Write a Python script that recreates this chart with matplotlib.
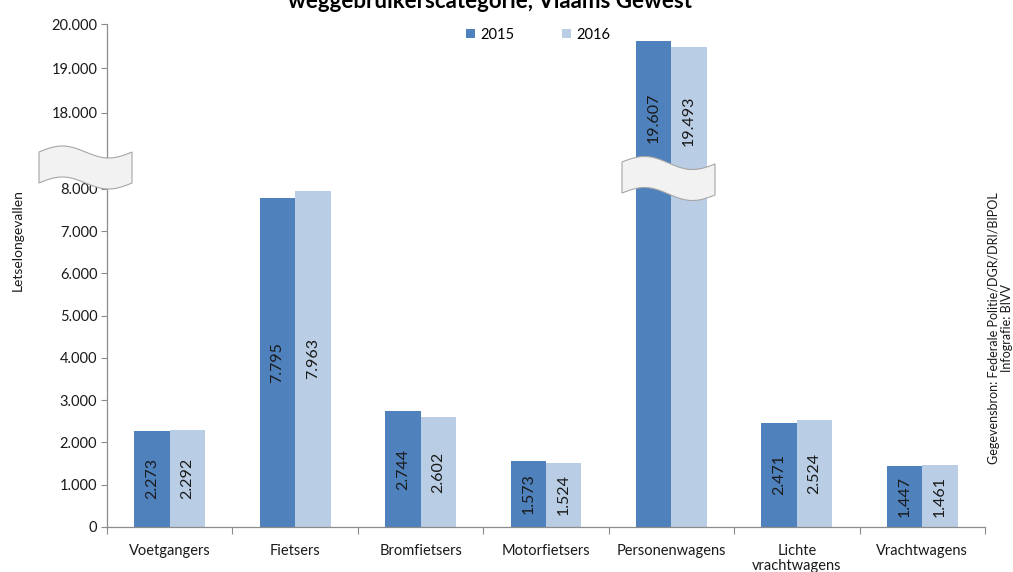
import numpy as np
import matplotlib
matplotlib.use("Agg")
import matplotlib.pyplot as plt
from matplotlib.patches import Polygon, Patch

plt.rcParams['font.family'] = ['Lato', 'DejaVu Sans']

categories = ["Voetgangers", "Fietsers", "Bromfietsers", "Motorfietsers",
              "Personenwagens", "Lichte\nvrachtwagens", "Vrachtwagens"]
values_2015 = [2273, 7795, 2744, 1573, 19607, 2471, 1447]
values_2016 = [2292, 7963, 2602, 1524, 19493, 2524, 1461]
series_names = ["2015", "2016"]
ytick_values = [0, 1000, 2000, 3000, 4000, 5000, 6000, 7000, 8000, 18000, 19000, 20000]

C15 = "#4F81BD"
C16 = "#B9CDE5"
AXC = "#8C8C8C"

# broken axis mapping
LOW, HIGH = 8000.0, 18000.0
T_HIGH = 9799.0
SLOPE_HI = 1.053
SLOPE_MID = (T_HIGH - LOW) / (HIGH - LOW)


def fwd(v):
    v = np.asarray(v, dtype=float)
    return np.where(v <= LOW, v,
                    np.where(v >= HIGH, T_HIGH + (v - HIGH) * SLOPE_HI,
                             LOW + (v - LOW) * SLOPE_MID))


def inv(t):
    t = np.asarray(t, dtype=float)
    return np.where(t <= LOW, t,
                    np.where(t >= T_HIGH, HIGH + (t - T_HIGH) / SLOPE_HI,
                             LOW + (t - LOW) / SLOPE_MID))


W, H = 1013, 572
fig = plt.figure(figsize=(W / 100, H / 100), dpi=100)
ax = fig.add_axes([107 / W, 1 - 527 / H, (985 - 107) / W, (527 - 24) / H])
ax.set_yscale('function', functions=(fwd, inv))
ax.set_ylim(0, 20000)

x = np.arange(len(categories))
bw = 0.283
ax.bar(x - bw / 2, values_2015, bw, color=C15, zorder=2)
ax.bar(x + bw / 2, values_2016, bw, color=C16, zorder=2)

ax.set_xlim(-0.5, len(categories) - 0.5)

# y ticks
ax.set_yticks(ytick_values)
ax.set_yticklabels([f"{v:,}".replace(",", ".") for v in ytick_values])
ax.yaxis.set_minor_locator(matplotlib.ticker.NullLocator())
ax.tick_params(axis='y', direction='out', length=4, width=0.8, color=AXC,
               labelsize=10.5, pad=3, labelcolor="#1a1a1a")

# x ticks: boundaries with marks, labels at centers
ax.set_xticks(np.arange(-0.5, len(categories), 1.0))
ax.set_xticklabels([])
ax.set_xticks(x, minor=True)
ax.set_xticklabels(categories, minor=True)
ax.tick_params(axis='x', which='major', direction='out', length=5, width=0.8, color=AXC)
ax.tick_params(axis='x', which='minor', length=0, labelsize=10.5, pad=12, labelcolor="#1a1a1a")
for lab in ax.get_xticklabels(minor=True):
    lab.set_linespacing(1.15)

for s in ['top', 'right']:
    ax.spines[s].set_visible(False)
for s in ['left', 'bottom']:
    ax.spines[s].set_color(AXC)
    ax.spines[s].set_linewidth(0.9)

# break shapes (pixel layout)
def break_shape(x0, x1, ytop_l, ytop_r, h, amp=6):
    xs = np.linspace(x0, x1, 60)
    frac = (xs - x0) / (x1 - x0)
    base = ytop_l + (ytop_r - ytop_l) * frac
    top = base - amp * np.sin(2 * np.pi * frac)
    bot = top + h
    pts = list(zip(xs, top)) + list(zip(xs[::-1], bot[::-1]))
    pts = [(px / W, 1 - py / H) for px, py in pts]
    poly = Polygon(pts, closed=True, transform=fig.transFigure, facecolor="#F2F2F2",
                   edgecolor="#A6A6A6", linewidth=0.8, zorder=6, clip_on=False)
    fig.patches.append(poly)

break_shape(39, 132, 152, 152, 31)
break_shape(622, 715, 162, 164, 31)

# data labels
BREAK_BOTTOM_PX = 195
px_per_t = (527 - 24) / float(fwd(20000))
t_break_bottom = (527 - BREAK_BOTTOM_PX) / px_per_t
for vals, off in ((values_2015, -bw / 2), (values_2016, bw / 2)):
    for xi, v in zip(x, vals):
        tv = float(fwd(v))
        if v > HIGH:
            tc = (tv + t_break_bottom) / 2
        else:
            tc = tv / 2
        yc = float(inv(tc))
        ax.text(xi + off, yc, f"{v:,}".replace(",", "."), rotation=90,
                ha='center', va='center', fontsize=11.5, color="#1a1a1a", zorder=7)

# legend
handles = [Patch(facecolor=C15, edgecolor='none'), Patch(facecolor=C16, edgecolor='none')]
leg = fig.legend(handles, series_names, loc='center', bbox_to_anchor=(538 / W, 1 - 35 / H),
                 ncol=2, frameon=False, fontsize=10.5, handlelength=0.6, handleheight=0.6,
                 handletextpad=0.35, columnspacing=3.3, borderaxespad=0)

# title (first line out of frame)
fig.text(490 / W, 1 - 7.5 / H, "weggebruikerscategorie, Vlaams Gewest", ha='center',
         va='baseline', fontsize=16, fontweight='bold', color="#000000")

# y label
fig.text(18 / W, 1 - 240 / H, "Letselongevallen", rotation=90, ha='center', va='center',
         fontsize=10, color="#1a1a1a")

# source
fig.text(1000 / W, 1 - 328 / H, "Gegevensbron: Federale Politie/DGR/DRI/BIPOL\nInfografie: BIVV",
         rotation=90, ha='center', va='center', fontsize=9, color="#1a1a1a",
         multialignment='center', linespacing=1.1)

fig.savefig("out.png", dpi=100)
